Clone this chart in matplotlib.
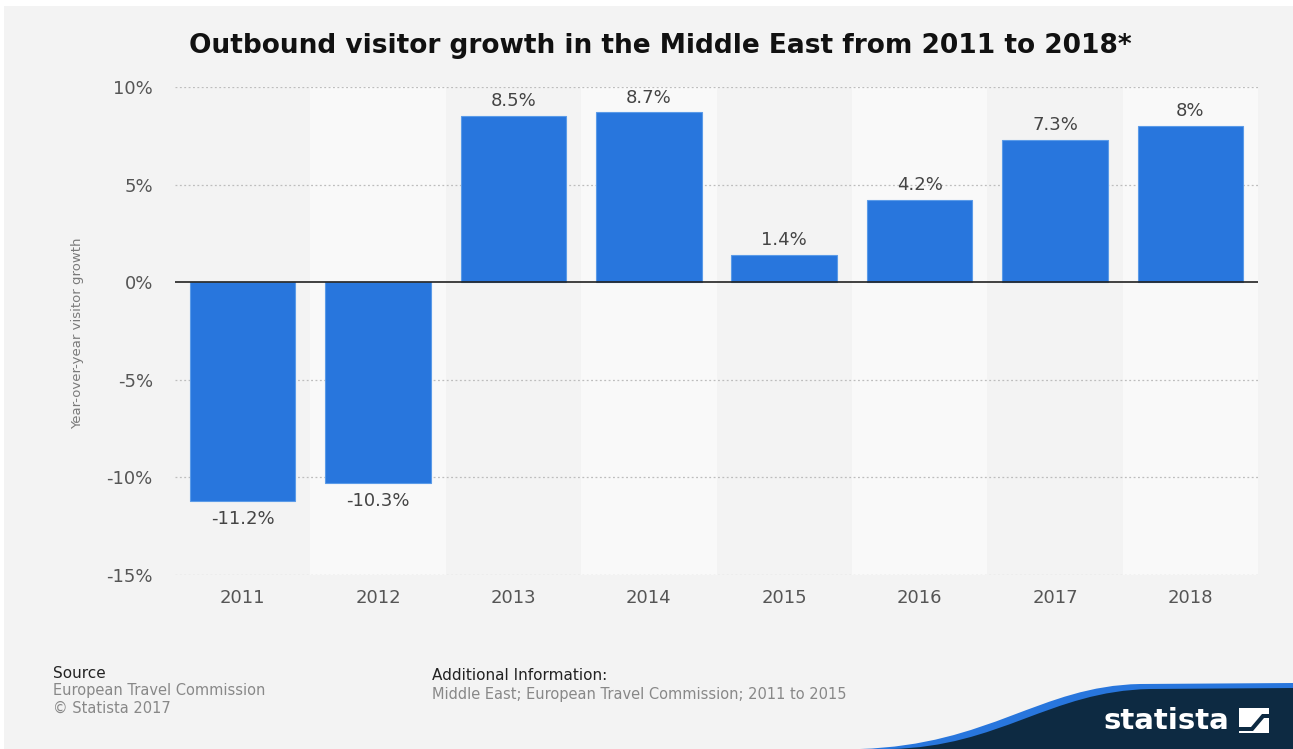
import numpy as np
import matplotlib.pyplot as plt
from matplotlib.patches import Polygon, Rectangle, PathPatch
from matplotlib.path import Path

years = ['2011', '2012', '2013', '2014', '2015', '2016', '2017', '2018']
growth = [-11.2, -10.3, 8.5, 8.7, 1.4, 4.2, 7.3, 8.0]
value_labels = ['-11.2%', '-10.3%', '8.5%', '8.7%', '1.4%', '4.2%', '7.3%', '8%']
y_ticks = [10, 5, 0, -5, -10, -15]

W, H = 1293, 749
fig = plt.figure(figsize=(W / 100, H / 100), dpi=100)
fig.patch.set_facecolor('white')


def fx(px):
    return px / W


def fy(py):
    return 1 - py / H


# page background (thin white margin at top/left)
fig.add_artist(Rectangle((fx(4), 0), 1, 1 - 6 / H, transform=fig.transFigure,
                         facecolor='#f3f3f3', edgecolor='none', zorder=0))

ax = fig.add_axes([fx(175), fy(575), (1258 - 175) / W, (575 - 87) / H])
ax.set_facecolor('none')
ax.set_zorder(2)

x = np.arange(len(years))
# alternating column bands
for i in x:
    ax.axvspan(i - 0.5, i + 0.5, color='#f3f3f3' if i % 2 == 0 else '#f9f9f9',
               zorder=0, lw=0)

for t in y_ticks:
    if t != 0:
        ax.axhline(t, color='#bdbdbd', lw=0.9, ls=(0, (1.5, 2)), zorder=1)

ax.bar(x, growth, width=0.78, color='#2876dd', edgecolor='#5b9be8', linewidth=0.8, zorder=3)
ax.axhline(0, color='#222222', lw=1.2, zorder=4)

for xi, v, lab in zip(x, growth, value_labels):
    if v >= 0:
        ax.text(xi, v + 0.3, lab, ha='center', va='bottom', fontsize=13, color='#444444')
    else:
        ax.text(xi, v - 0.45, lab, ha='center', va='top', fontsize=13, color='#444444')

ax.set_xlim(-0.5, len(years) - 0.5)
ax.set_ylim(-15, 10)
ax.set_xticks(x)
ax.set_xticklabels(years, fontsize=13, color='#555555')
ax.set_yticks(y_ticks)
ax.set_yticklabels([f'{t}%' for t in y_ticks], fontsize=13, color='#555555')
ax.tick_params(length=0)
ax.tick_params(axis='y', pad=16)
ax.tick_params(axis='x', pad=10)
for s in ax.spines.values():
    s.set_visible(False)

fig.text(fx(78), fy(333), 'Year-over-year visitor growth', rotation=90,
         ha='center', va='center', fontsize=9.5, color='#7a7a7a')

fig.text(fx(660), fy(46), 'Outbound visitor growth in the Middle East from 2011 to 2018*',
         ha='center', va='center', fontsize=19, fontweight='bold', color='#111111')

# footer
fig.text(fx(53), fy(674), 'Source', fontsize=11, color='#222222', va='center')
fig.text(fx(53), fy(691), 'European Travel Commission', fontsize=10.5, color='#888888', va='center')
fig.text(fx(53), fy(708), '\u00a9 Statista 2017', fontsize=10.5, color='#888888', va='center')
fig.text(fx(432), fy(676), 'Additional Information:', fontsize=11, color='#222222', va='center')
fig.text(fx(432), fy(694), 'Middle East; European Travel Commission; 2011 to 2015',
         fontsize=10.5, color='#888888', va='center')


# logo swoosh
def swoosh(x0, c1, c2, p3, color, z):
    verts = [(x0, 749), c1, c2, p3, (1293, p3[1] - 1), (1293, 749), (x0, 749)]
    codes = [Path.MOVETO, Path.CURVE4, Path.CURVE4, Path.CURVE4,
             Path.LINETO, Path.LINETO, Path.CLOSEPOLY]
    verts = [(fx(vx), fy(vy)) for vx, vy in verts]
    fig.add_artist(PathPatch(Path(verts, codes), transform=fig.transFigure,
                             facecolor=color, edgecolor='none', zorder=z))


swoosh(860, (990, 745), (1040, 686), (1140, 684), '#2876dd', 3)
swoosh(890, (1000, 747), (1050, 691), (1150, 689), '#0d2a42', 4)
fig.text(fx(1229), fy(721), 'statista', fontsize=21, fontweight='bold',
         color='white', ha='right', va='center', zorder=5)
fig.add_artist(Rectangle((fx(1239), fy(733)), 30 / W, 25 / H, transform=fig.transFigure,
                         facecolor='white', edgecolor='none', zorder=5))
fig.add_artist(Polygon([(fx(1239), fy(727)), (fx(1251), fy(727)), (fx(1262), fy(714)),
                        (fx(1269), fy(714)), (fx(1269), fy(718)), (fx(1264), fy(718)),
                        (fx(1253), fy(731)), (fx(1239), fy(731))],
                       closed=True, transform=fig.transFigure,
                       facecolor='#0d2a42', edgecolor='none', zorder=6))

fig.savefig('out.png', dpi=100)
